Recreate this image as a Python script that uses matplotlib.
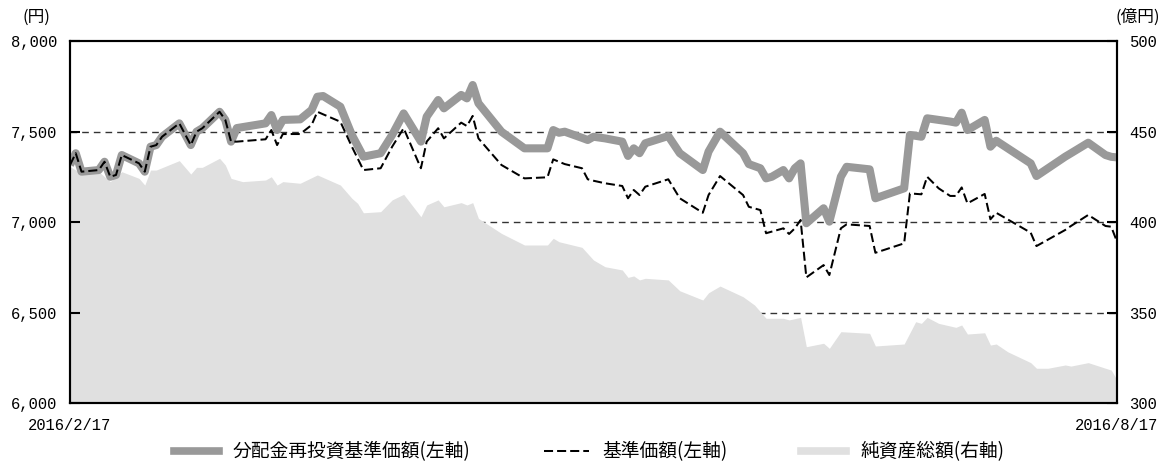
import numpy as np
import pandas as pd
import matplotlib
matplotlib.use("Agg")
import matplotlib.pyplot as plt
from matplotlib.lines import Line2D

## data
start = pd.Timestamp("2016-02-17")

# days from start, shared by the two NAV series
nav_days = [0, 1, 2, 5, 6, 7, 8, 9, 12, 13, 14, 15, 16, 19, 21, 22, 23, 26, 27, 28,
            29, 34, 35, 36, 37, 40, 42, 43, 44, 47, 49, 51, 54, 56, 58, 61, 62, 64, 65, 68,
            69, 70, 71, 75, 79, 83, 84, 85, 86, 89, 90, 91, 93, 96, 97, 98, 99, 100, 104, 106,
            110, 111, 113, 117, 118, 120, 121, 122, 124, 125, 126, 127, 128, 131, 132, 134, 135, 139, 140, 145,
            146, 148, 149, 151, 153, 154, 155, 156, 159, 160, 161, 167, 168, 173, 174, 177, 180, 181, 182]
# 分配金再投資基準価額 (円)
nav_reinv = [7315, 7380, 7278, 7287, 7333, 7250, 7260, 7370, 7324, 7278, 7416, 7425, 7471, 7545, 7425, 7499, 7518, 7609, 7564, 7444,
             7519, 7545, 7591, 7508, 7564, 7567, 7619, 7692, 7696, 7637, 7481, 7361, 7380, 7481, 7600, 7444, 7582, 7674, 7628, 7702,
             7683, 7757, 7656, 7499, 7407, 7407, 7508, 7493, 7499, 7465, 7453, 7471, 7462, 7444, 7365, 7407, 7380, 7435, 7475, 7380,
             7287, 7389, 7499, 7380, 7320, 7297, 7241, 7250, 7287, 7241, 7297, 7324, 6993, 7076, 7002, 7250, 7305, 7291, 7131, 7186,
             7481, 7471, 7573, 7564, 7555, 7549, 7604, 7508, 7564, 7416, 7449, 7324, 7254, 7361, 7380, 7438, 7370, 7360, 7357]
# 基準価額 (円)
nav = [7315, 7380, 7278, 7287, 7333, 7250, 7260, 7370, 7324, 7278, 7416, 7425, 7471, 7545, 7425, 7499, 7518, 7609, 7564, 7444,
       7444, 7457, 7508, 7425, 7486, 7486, 7536, 7609, 7595, 7554, 7416, 7287, 7297, 7416, 7518, 7297, 7444, 7518, 7462, 7549,
       7530, 7586, 7462, 7315, 7241, 7247, 7346, 7333, 7320, 7297, 7236, 7228, 7214, 7199, 7131, 7177, 7149, 7195, 7236, 7131,
       7051, 7149, 7254, 7149, 7084, 7066, 6938, 6947, 6965, 6934, 6965, 7011, 6694, 6762, 6707, 6965, 6987, 6978, 6830, 6882,
       7158, 7153, 7250, 7186, 7144, 7144, 7191, 7103, 7155, 7015, 7051, 6941, 6867, 6956, 6978, 7039, 6978, 6974, 6891]

# 純資産総額 (億円)
aum_days = [0, 1, 5, 7, 9, 12, 13, 14, 15, 19, 21, 22, 23, 26, 27, 28, 30, 34, 35, 36,
            37, 40, 43, 47, 49, 50, 51, 54, 56, 58, 61, 62, 64, 65, 68, 69, 70, 71, 75, 79,
            83, 84, 85, 89, 91, 93, 96, 97, 98, 99, 100, 104, 106, 110, 111, 113, 117, 119, 121, 124,
            125, 127, 128, 131, 132, 134, 139, 140, 145, 147, 148, 149, 151, 154, 155, 156, 159, 160, 161, 163,
            167, 168, 170, 173, 174, 177, 180, 181, 182]
aum = [430.6, 428.7, 427.8, 422.3, 427.8, 424.1, 420.4, 428.7, 428.7, 433.9, 426.5, 430.2, 430.2, 435.2, 431.5, 424.1, 422.3, 423.2, 425.0, 420.4,
       422.3, 421.4, 426.0, 420.4, 413.1, 410.3, 405.1, 405.7, 412.2, 415.3, 402.9, 409.4, 412.2, 408.4, 410.7, 409.4, 410.7, 402.0, 393.7, 387.3,
       387.3, 391.0, 389.1, 386.0, 379.0, 375.3, 373.5, 369.4, 370.2, 368.0, 368.9, 368.0, 362.0, 356.9, 360.9, 364.6, 358.7, 354.1, 346.8, 346.8,
       345.9, 347.3, 331.1, 333.0, 330.2, 339.4, 338.5, 331.5, 332.6, 344.9, 344.0, 347.3, 344.0, 341.8, 343.1, 338.1, 338.8, 332.0, 332.6, 328.3,
       322.3, 319.2, 319.2, 321.0, 320.4, 322.3, 319.2, 318.2, 312.7]

yticks_left = [6000, 6500, 7000, 7500, 8000]
yticks_right = [300, 350, 400, 450, 500]
labels = ["分配金再投資基準価額(左軸)", "基準価額(左軸)", "純資産総額(右軸)"]

## style
num_font = "Liberation Mono"
jp_font = ["Noto Sans CJK JP", "DejaVu Sans"]
c_reinv = "#999999"
c_aum = "#e0e0e0"

nav_dates = start + pd.to_timedelta(nav_days, unit="D")
aum_dates = start + pd.to_timedelta(aum_days, unit="D")
end = start + pd.Timedelta(days=182)

## figure
fig = plt.figure(figsize=(11.66, 4.61), dpi=100)
ax = fig.add_axes([0.06003, 0.12581, 0.89794, 0.78525])
ax2 = ax.twinx()
# lines on top of the area
ax.set_zorder(ax2.get_zorder() + 1)
ax.patch.set_visible(False)

# net assets area and grid on the right axis
ax2.set_axisbelow(True)
ax2.fill_between(aum_dates, aum, 300, color=c_aum, lw=0, zorder=1)
for v in yticks_right[1:-1]:
    ax2.axhline(v, color="#333333", lw=1.0, ls=(0, (4.8, 3.6)), zorder=0.5)
ax2.set_ylim(300, 500)
ax2.set_yticks(yticks_right)
ax2.set_yticklabels([str(v) for v in yticks_right], fontfamily=num_font, fontsize=11.2)

# NAV lines on the left axis
ax.plot(nav_dates, nav_reinv, color=c_reinv, lw=5.8,
        solid_joinstyle="round", solid_capstyle="butt", zorder=2)
ax.plot(nav_dates, nav, color="black", lw=1.45, ls=(0, (4.5, 2)), zorder=3)
ax.set_ylim(6000, 8000)
ax.set_xlim(start, end)
ax.set_yticks(yticks_left)
ax.set_yticklabels([f"{v:,}" for v in yticks_left], fontfamily=num_font, fontsize=11.2)
ax.set_xticks([start, end])
ax.set_xticklabels([f"{d.year}/{d.month}/{d.day}" for d in (start, end)],
                   fontfamily=num_font, fontsize=11.2)

ax.tick_params(axis="y", direction="in", length=7, width=1.5, pad=9)
ax2.tick_params(axis="y", direction="in", length=7, width=1.5, pad=9)
ax.tick_params(axis="x", length=0, pad=11)
for a in (ax, ax2):
    for s in a.spines.values():
        s.set_linewidth(1.5)
        s.set_color("black")

# unit labels
fig.text(0.0315, 0.963, "(円)", fontfamily=jp_font, fontsize=12, ha="center", va="center")
fig.text(0.976, 0.963, "(億円)", fontfamily=jp_font, fontsize=12, ha="center", va="center")

# legend
handles = [Line2D([], [], color=c_reinv, lw=5.5),
           Line2D([], [], color="black", lw=1.45, ls=(0, (4.5, 2))),
           Line2D([], [], color=c_aum, lw=5.5)]
fig.legend(handles, labels, loc="center", bbox_to_anchor=(0.505, 0.02), ncol=3,
           frameon=False, prop={"family": jp_font, "size": 13.5},
           handlelength=2.4, handletextpad=0.75, columnspacing=3.9)

fig.savefig("out.png", dpi=100)
